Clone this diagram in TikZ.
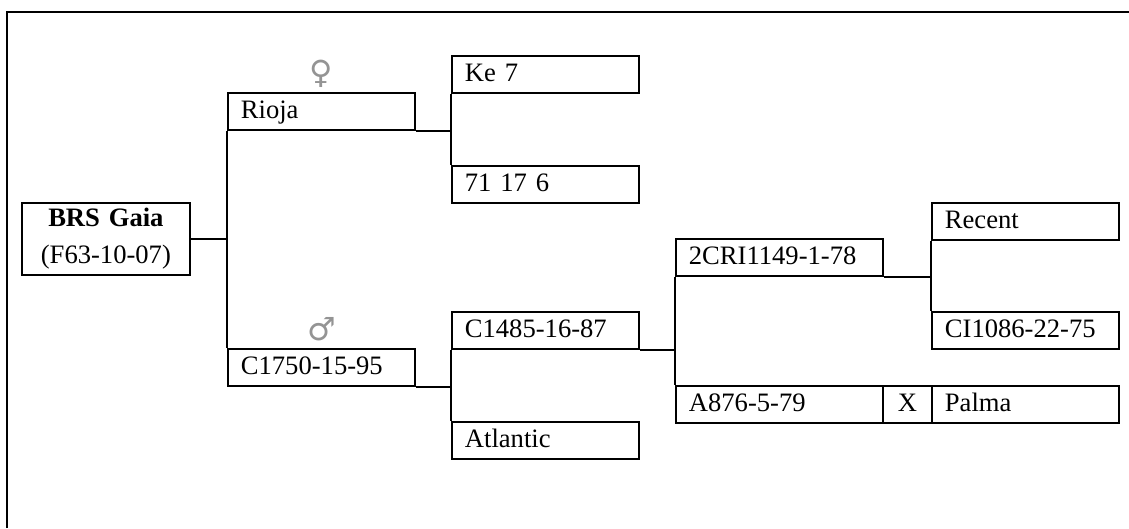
\documentclass[tikz,border=0pt]{standalone}
\usepackage{fontspec}
\setmainfont{Liberation Serif}
\newfontfamily\symfont{DejaVu Sans}
\begin{document}
\begin{tikzpicture}[x=1pt,y=-1pt,
  lw/.style={line width=1.8pt},
  pbox/.style={draw, lw, rectangle, anchor=north west, inner xsep=13pt, inner ysep=0pt,
    minimum height=37pt, text height=25.5pt, text depth=11.5pt, align=left,
    font=\fontsize{26.6}{30}\selectfont},
  conn/.style={lw},
  sym/.style={text=black!42, font=\symfont\fontsize{32}{36}\selectfont, inner sep=0pt}]
\useasboundingbox (0,0) rectangle (1129,528);
% frame (top and left)
\coordinate (fTL) at (7,12);
\coordinate (fTR) at (1129,12);
\coordinate (fBL) at (7,528);
\draw[lw] (fBL) -- (fTL) -- (fTR);
% boxes
\node[pbox, minimum width=168pt, text width=168pt, minimum height=72pt, text height=, text depth=, align=center, inner xsep=0pt] (gaia) at (21,202)
  {\textbf{BRS Gaia}\\[7pt](F63-10-07)};
\node[pbox, minimum width=187pt, text width=161pt] (rioja) at (227,92) {Rioja};
\node[pbox, minimum width=187pt, text width=161pt] (c1750) at (227,348) {C1750-15-95};
\node[pbox, minimum width=187pt, text width=161pt] (ke7) at (451,55) {Ke 7};
\node[pbox, minimum width=187pt, text width=161pt] (n71) at (451,165) {71 17 6};
\node[pbox, minimum width=187pt, text width=161pt] (c1485) at (451,311) {C1485-16-87};
\node[pbox, minimum width=187pt, text width=161pt] (atl) at (451,421) {Atlantic};
\node[pbox, minimum width=207pt, text width=181pt] (cri) at (675,238) {2CRI1149-1-78};
\node[pbox, minimum width=207pt, text width=181pt] (a876) at (675,385) {A876-5-79};
\node[pbox, minimum width=49pt, text width=49pt, inner xsep=0pt, align=center] (x) at (882,385) {X};
\node[pbox, minimum width=187pt, text width=161pt] (palma) at (931,385) {Palma};
\node[pbox, minimum width=187pt, text width=161pt] (recent) at (931,202) {Recent};
\node[pbox, minimum width=187pt, text width=161pt] (ci1086) at (931,311) {CI1086-22-75};
% gender symbols
\node[sym, anchor=south] (fem) at ([yshift=4pt]rioja.north) {♀};
\node[sym, anchor=south] (mal) at ([yshift=7pt]c1750.north) {♂};
% connectors
\draw[conn] (gaia.east) -- (gaia.east -| rioja.west);
\draw[conn] (rioja.south west) -- (c1750.north west);
\draw[conn] (rioja.south east) -- (rioja.south east -| ke7.west);
\draw[conn] (ke7.south west) -- (n71.north west);
\draw[conn] (c1750.south east) -- (c1750.south east -| c1485.west);
\draw[conn] (c1485.south west) -- (atl.north west);
\draw[conn] (c1485.south east) -- (c1485.south east -| cri.west);
\draw[conn] (cri.south west) -- (a876.north west);
\draw[conn] (cri.south east) -- (cri.south east -| recent.west);
\draw[conn] (recent.south west) -- (ci1086.north west);
\end{tikzpicture}
\end{document}
